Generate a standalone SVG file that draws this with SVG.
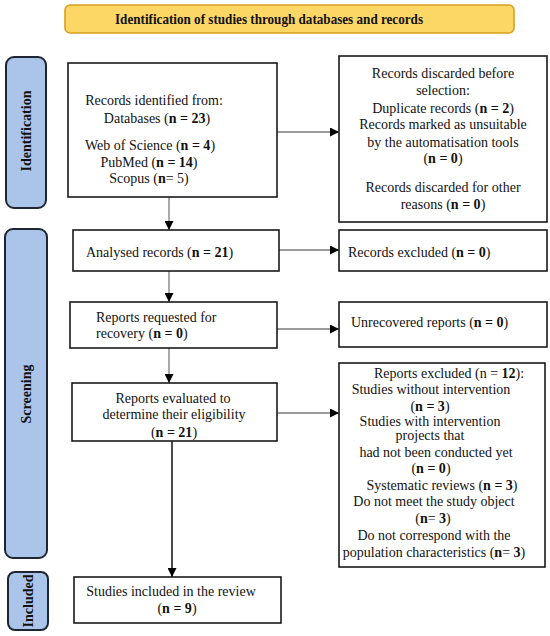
<svg xmlns="http://www.w3.org/2000/svg" width="550" height="636" viewBox="0 0 550 636">
<defs>
<style>
.box{fill:#ffffff;stroke:#1a1a1a;stroke-width:1.6}
.side{fill:#abc5ea;stroke:#1f2633;stroke-width:2}
.t{font-family:"Liberation Serif","Times New Roman",serif;font-size:14px;fill:#111}
.c{text-anchor:middle}
.sl{font-family:"Liberation Serif","Times New Roman",serif;font-size:14px;font-weight:bold;fill:#111;text-anchor:middle}
.ln{stroke:#7a7a7a;stroke-width:1.3;fill:none}
</style>
<marker id="ah" viewBox="0 0 10 10" refX="10" refY="5" markerWidth="10" markerHeight="9" markerUnits="userSpaceOnUse" orient="auto">
<path d="M0,0 L10,5 L0,10 z" fill="#000"/>
</marker>
</defs>
<rect width="550" height="636" fill="#ffffff"/>

<g id="title">
<rect x="65" y="5" width="449" height="28" rx="5" fill="#fdd766" stroke="#d9a01e" stroke-width="1.6"/>
<text x="269" y="24" class="t c" font-weight="bold" textLength="308" lengthAdjust="spacingAndGlyphs">Identification of studies through databases and records</text>
</g>

<g id="side-identification">
<rect x="6" y="57" width="40" height="151" rx="8" class="side"/>
<text class="sl" transform="translate(31,131) rotate(-90)">Identification</text>
</g>
<g id="side-screening">
<rect x="5" y="229" width="42" height="329" rx="8" class="side"/>
<text class="sl" transform="translate(31,394) rotate(-90)">Screening</text>
</g>
<g id="side-included">
<rect x="8" y="572" width="40" height="58" rx="7" class="side"/>
<text class="sl" transform="translate(33,601) rotate(-90)">Included</text>
</g>

<g id="connectors">
<line x1="277" y1="132" x2="339" y2="132" class="ln" marker-end="url(#ah)"/>
<line x1="169" y1="197" x2="169" y2="230" class="ln" marker-end="url(#ah)"/>
<line x1="279" y1="250" x2="339" y2="250" class="ln" marker-end="url(#ah)"/>
<line x1="169" y1="271" x2="169" y2="302" class="ln" marker-end="url(#ah)"/>
<line x1="277" y1="329" x2="339" y2="329" class="ln" marker-end="url(#ah)"/>
<line x1="169" y1="348" x2="169" y2="383" class="ln" marker-end="url(#ah)"/>
<line x1="277" y1="413" x2="339" y2="413" class="ln" marker-end="url(#ah)"/>
<line x1="172" y1="441" x2="172" y2="577" stroke="#111" stroke-width="1.5" marker-end="url(#ah)"/>
</g>

<g id="records-identified">
<rect x="68" y="63" width="209" height="134" class="box"/>
<text class="t c" x="154" y="105">Records identified from:</text>
<text class="t c" x="157" y="123">Databases (<tspan font-weight="bold">n = 23</tspan>)</text>
<text class="t c" x="150" y="150">Web of Science (<tspan font-weight="bold">n = 4</tspan>)</text>
<text class="t c" x="149" y="167">PubMed (<tspan font-weight="bold">n = 14</tspan>)</text>
<text class="t c" x="149" y="183">Scopus (<tspan font-weight="bold">n</tspan>= 5)</text>
</g>

<g id="records-discarded">
<rect x="339" y="56" width="208" height="166" class="box"/>
<text class="t c" x="443" y="78">Records discarded before</text>
<text class="t c" x="443" y="95">selection:</text>
<text class="t c" x="443" y="113">Duplicate records (<tspan font-weight="bold">n = 2</tspan>)</text>
<text class="t c" x="443" y="129">Records marked as unsuitable</text>
<text class="t c" x="443" y="147">by the automatisation tools</text>
<text class="t c" x="443" y="163">(<tspan font-weight="bold">n = 0</tspan>)</text>
<text class="t c" x="443" y="192">Records discarded for other</text>
<text class="t c" x="443" y="209">reasons (<tspan font-weight="bold">n = 0</tspan>)</text>
</g>

<g id="analysed-records">
<rect x="73" y="230" width="206" height="41" class="box"/>
<text class="t" x="86" y="257">Analysed records (<tspan font-weight="bold">n = 21</tspan>)</text>
</g>

<g id="records-excluded">
<rect x="339" y="230" width="208" height="41" class="box"/>
<text class="t" x="348" y="257">Records excluded (<tspan font-weight="bold">n = 0</tspan>)</text>
</g>

<g id="reports-requested">
<rect x="70" y="302" width="207" height="46" class="box"/>
<text class="t" x="96" y="322">Reports requested for</text>
<text class="t" x="96" y="338">recovery (<tspan font-weight="bold">n = 0</tspan>)</text>
</g>

<g id="unrecovered-reports">
<rect x="339" y="302" width="208" height="45" class="box"/>
<text class="t" x="351" y="327">Unrecovered reports (<tspan font-weight="bold">n = 0</tspan>)</text>
</g>

<g id="reports-evaluated">
<rect x="72" y="383" width="205" height="58" class="box"/>
<text class="t c" x="173" y="403">Reports evaluated to</text>
<text class="t c" x="174" y="419">determine their eligibility</text>
<text class="t c" x="174" y="437">(<tspan font-weight="bold">n = 21</tspan>)</text>
</g>

<g id="reports-excluded">
<rect x="339" y="363" width="206" height="204" class="box"/>
<text class="t c" x="449" y="378">Reports excluded (n = <tspan font-weight="bold">12</tspan>):</text>
<text class="t c" x="431" y="394">Studies without intervention</text>
<text class="t c" x="430" y="411">(<tspan font-weight="bold">n = 3</tspan>)</text>
<text class="t c" x="430" y="426">Studies with intervention</text>
<text class="t c" x="430" y="440">projects that</text>
<text class="t c" x="436" y="457">had not been conducted yet</text>
<text class="t c" x="431" y="473">(<tspan font-weight="bold">n = 0</tspan>)</text>
<text class="t c" x="442" y="490">Systematic reviews (<tspan font-weight="bold">n = 3</tspan>)</text>
<text class="t c" x="434" y="506">Do not meet the study object</text>
<text class="t c" x="433" y="523">(<tspan font-weight="bold">n</tspan>= <tspan font-weight="bold">3</tspan>)</text>
<text class="t c" x="434" y="540">Do not correspond with the</text>
<text class="t c" x="434" y="557">population characteristics (<tspan font-weight="bold">n</tspan>= <tspan font-weight="bold">3</tspan>)</text>
</g>

<g id="studies-included">
<rect x="74" y="577" width="207" height="46" class="box"/>
<text class="t c" x="171" y="596">Studies included in the review</text>
<text class="t c" x="177" y="613">(<tspan font-weight="bold">n = 9</tspan>)</text>
</g>
</svg>
